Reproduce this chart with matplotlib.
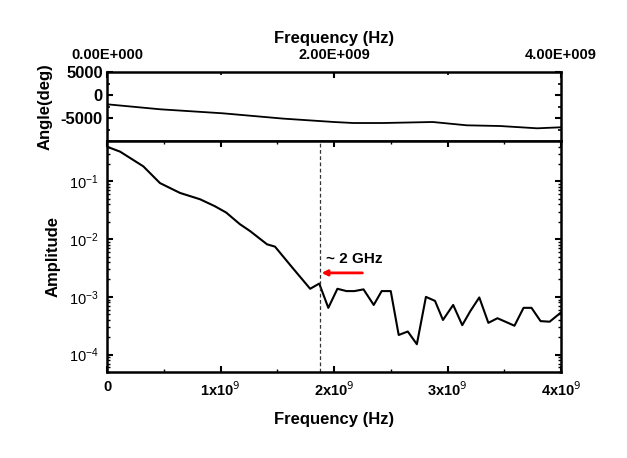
import matplotlib
matplotlib.use("Agg")
import matplotlib.pyplot as plt
from matplotlib.ticker import FixedLocator, MultipleLocator, FuncFormatter, LogLocator, NullFormatter
import numpy as np

plt.rcParams['font.family'] = ['Liberation Sans', 'DejaVu Sans']
plt.rcParams['axes.unicode_minus'] = False

# Amplitude spectrum (frequency in GHz, log10 amplitude)
amp_freq_ghz = [0.0, 0.115, 0.32, 0.467, 0.643, 0.82, 0.95, 1.05, 1.17, 1.26, 1.41, 1.48, 1.64,
                1.79, 1.87, 1.95, 2.03, 2.11, 2.18, 2.26, 2.35, 2.42, 2.50, 2.57, 2.65, 2.73,
                2.81, 2.89, 2.96, 3.05, 3.13, 3.20, 3.28, 3.36, 3.44, 3.51, 3.59, 3.67, 3.74,
                3.82, 3.90, 4.0]
amp_log10 = [-0.40, -0.485, -0.74, -1.03, -1.20, -1.31, -1.43, -1.54, -1.74, -1.86, -2.09, -2.13, -2.51,
             -2.86, -2.77, -3.19, -2.86, -2.90, -2.90, -2.87, -3.14, -2.90, -2.90, -3.66, -3.60, -3.82,
             -3.00, -3.07, -3.40, -3.14, -3.49, -3.25, -3.01, -3.45, -3.37, -3.43, -3.50, -3.19, -3.19,
             -3.42, -3.43, -3.27]

# Phase (frequency in GHz, degrees)
phase_freq_ghz = [0.0, 0.47, 1.02, 1.55, 2.0, 2.17, 2.43, 2.87, 3.17, 3.46, 3.79, 4.0]
phase_deg = [-2020, -3110, -3980, -5130, -5870, -6090, -6090, -5870, -6590, -6740, -7240, -7020]

marker_freq_ghz = 1.88
annot_text = "~ 2 GHz"

amp_freq = np.array(amp_freq_ghz) * 1e9
amp = 10 ** np.array(amp_log10)
phase_freq = np.array(phase_freq_ghz) * 1e9

fig = plt.figure(figsize=(6.27, 4.58), dpi=100)
L, W = 107/627, 454/627
ax_top = fig.add_axes([L, (458-141)/458, W, 69/458])
ax = fig.add_axes([L, (458-372)/458, W, 231/458])

lw_sp = 1.8
# --- top panel ---
ax_top.plot(phase_freq, phase_deg, color='black', lw=1.3)
ax_top.set_xlim(0, 4e9)
ax_top.set_ylim(-10000, 5000)
ax_top.xaxis.set_ticks_position('top')
ax_top.xaxis.set_label_position('top')
ax_top.set_xticks([0, 2e9, 4e9])
ax_top.xaxis.set_minor_locator(FixedLocator([1e9, 3e9]))
ax_top.xaxis.set_major_formatter(FuncFormatter(lambda v, p: {0: "0.00E+000", 2: "2.00E+009", 4: "4.00E+009"}[int(round(v/1e9))]))
ax_top.set_yticks([5000, 0, -5000])
ax_top.yaxis.set_minor_locator(MultipleLocator(2500))
ax_top.tick_params(axis='y', which='both', direction='in', left=True, right=True)
ax_top.tick_params(axis='x', which='both', direction='in', top=True, bottom=False)
ax_top.tick_params(axis='x', which='major', length=4, width=1.5, labelsize=10.5, pad=7)
ax_top.tick_params(axis='y', which='major', length=4, width=1.5, labelsize=12, pad=3)
ax_top.tick_params(which='minor', length=2.5, width=1.2)
for lab in ax_top.get_xticklabels() + ax_top.get_yticklabels():
    lab.set_fontweight('bold')
ax_top.set_xlabel("Frequency (Hz)", fontsize=12, fontweight='bold', labelpad=4)
ax_top.set_ylabel("Angle(deg)", fontsize=12, fontweight='bold', labelpad=6)
for s in ax_top.spines.values():
    s.set_linewidth(lw_sp)

# --- bottom panel ---
ax.plot(amp_freq, amp, color='black', lw=1.5)
ax.set_yscale('log')
ax.set_xlim(0, 4e9)
ax.set_ylim(5e-5, 0.5)
ax.axvline(marker_freq_ghz * 1e9, color='#333333', ls=(0, (3, 2)), lw=0.9)
ax.annotate("", xy=(marker_freq_ghz * 1e9 + 0.01e9, 2.6e-3), xytext=(2.25e9, 2.6e-3),
            arrowprops=dict(arrowstyle='-|>', color='red', lw=2, mutation_scale=8, shrinkA=0, shrinkB=0))
ax.text(1.93e9, 4.6e-3, annot_text, fontsize=11, fontweight='bold', ha='left', va='center')
ax.set_xticks([0, 1e9, 2e9, 3e9, 4e9])
ax.xaxis.set_minor_locator(MultipleLocator(0.5e9))
ax.xaxis.set_major_formatter(FuncFormatter(lambda v, p: "0" if v == 0 else r"%dx10$^{9}$" % int(round(v/1e9))))
ax.yaxis.set_major_locator(LogLocator(base=10, numticks=10))
ax.yaxis.set_minor_locator(LogLocator(base=10, subs=np.arange(2, 10), numticks=10))
ax.yaxis.set_minor_formatter(NullFormatter())
ax.tick_params(which='both', direction='in', top=True, right=True)
ax.tick_params(which='major', length=4, width=1.5, labelsize=10.5, pad=6)
ax.tick_params(which='minor', length=2.5, width=1.0)
for lab in ax.get_xticklabels():
    lab.set_fontweight('bold')
ax.set_xlabel("Frequency (Hz)", fontsize=12, fontweight='bold', labelpad=9)
ax.set_ylabel("Amplitude", fontsize=12, fontweight='bold', labelpad=6)
for s in ax.spines.values():
    s.set_linewidth(lw_sp)

fig.savefig("out.png", dpi=100)
